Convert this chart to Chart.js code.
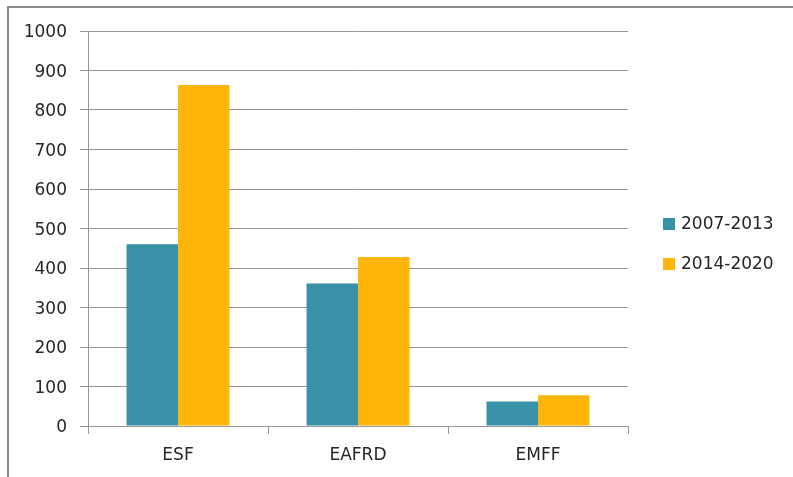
<!DOCTYPE html>
<html>
<head>
<meta charset="utf-8">
<script src="https://cdn.jsdelivr.net/npm/chart.js@4/dist/chart.umd.min.js"></script>
<style>
  html, body { margin: 0; padding: 0; background: #fff; }
  #wrap { position: relative; width: 793px; height: 477px; overflow: hidden; }
  #frame { position: absolute; left: 7px; top: 6px; right: -4px; bottom: -4px; border-top: 2px solid #8a8a8a; border-left: 2px solid #8a8a8a; pointer-events: none; }
  canvas { position: absolute; left: 0; top: 0; }
</style>
</head>
<body>
<div id="wrap">
  <canvas id="c" width="793" height="477"></canvas>
  <div id="frame"></div>
</div>
<script>
const categories = ['ESF', 'EAFRD', 'EMFF'];
const seriesNames = ['2007-2013', '2014-2020'];
const values2007 = [460, 361, 62];
const values2014 = [863, 428, 78];
const yTicks = [0, 100, 200, 300, 400, 500, 600, 700, 800, 900, 1000];

const colors = ['#3891A7', '#FFB50A'];
const FONT = 'DejaVu Sans';

const legendPlugin = {
  id: 'customLegend',
  afterDraw(chart) {
    const ctx = chart.ctx;
    ctx.save();
    ctx.font = '17px "' + FONT + '"';
    ctx.textBaseline = 'middle';
    chart.data.datasets.forEach((ds, i) => {
      const y = 224 + i * 40;
      ctx.fillStyle = ds.backgroundColor;
      ctx.fillRect(663, y - 6, 12, 12);
      ctx.fillStyle = '#262626';
      ctx.textAlign = 'left';
      ctx.fillText(ds.label, 681, y + 1);
    });
    ctx.restore();
  }
};

new Chart(document.getElementById('c'), {
  type: 'bar',
  data: {
    labels: categories,
    datasets: [
      { label: seriesNames[0], data: values2007, backgroundColor: colors[0] },
      { label: seriesNames[1], data: values2014, backgroundColor: colors[1] }
    ]
  },
  options: {
    responsive: false,
    animation: false,
    devicePixelRatio: 1,
    categoryPercentage: 0.572,
    barPercentage: 1.0,
    layout: { padding: { left: 0, right: 165, top: 31, bottom: 0 } },
    plugins: { legend: { display: false }, tooltip: { enabled: false } },
    scales: {
      x: {
        grid: { display: true, drawOnChartArea: false, drawTicks: true, tickLength: 8, color: '#999', offset: true },
        border: { display: true, color: '#999', width: 1 },
        ticks: { color: '#262626', font: { family: FONT, size: 17 }, padding: 11 },
        afterFit(scale) { scale.height = 51; }
      },
      y: {
        min: 0, max: 1000,
        afterBuildTicks(scale) { scale.ticks = yTicks.map(v => ({ value: v })); },
        grid: { color: '#959595', tickLength: 8, lineWidth: 1 },
        border: { display: true, color: '#959595', width: 1 },
        ticks: { color: '#262626', font: { family: FONT, size: 17 }, padding: 13, labelOffset: 2, callback: (v) => String(v) },
        afterFit(scale) { scale.width = 88; }
      }
    }
  },
  plugins: [legendPlugin]
});
</script>
</body>
</html>
